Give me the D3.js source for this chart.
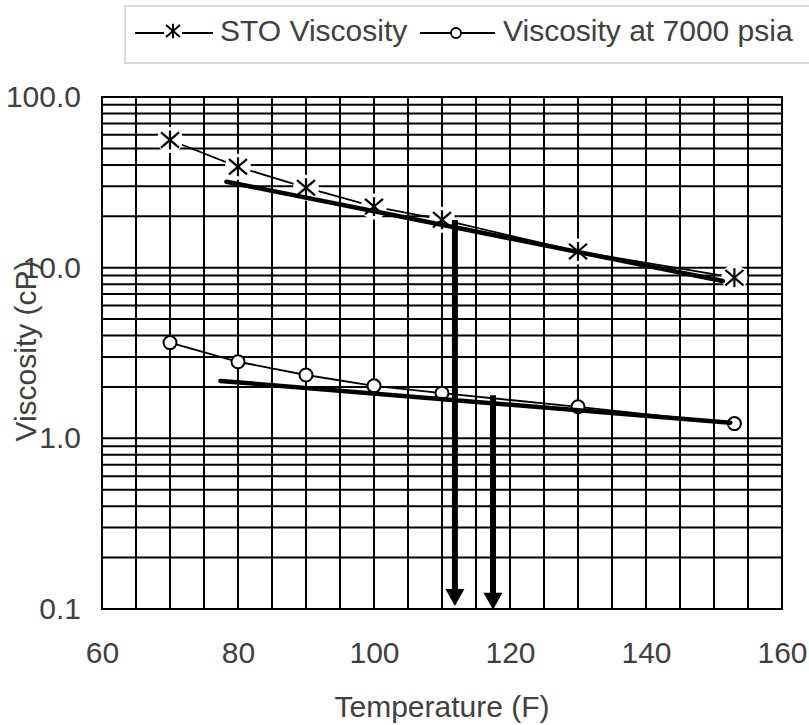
<!DOCTYPE html>
<html>
<head>
<meta charset="utf-8">
<script src="https://cdn.jsdelivr.net/npm/d3@7"></script>
<style>
  html, body { margin: 0; padding: 0; background: #fff; }
  svg { display: block; }
  text { font-family: "Liberation Sans", Arial, sans-serif; fill: #404040; }
</style>
</head>
<body>
<svg id="chart" width="809" height="725"></svg>
<script>
// ---- data ----
const temps = [70, 80, 90, 100, 110, 130, 153];
const stoVisc = [56.0, 39.0, 29.4, 22.8, 19.1, 12.45, 8.74];
const visc7000 = [3.64, 2.81, 2.35, 2.03, 1.84, 1.53, 1.22];

const stoTrendT = [78.3, 151.3];
const stoTrendV = [31.9, 8.36];
const trend7000T = [77.4, 152.4];
const trend7000V = [2.17, 1.235];

const arrowT = [111.9, 117.5];
const arrowFromV = [19.0, 1.79];
const arrowToV = [0.104, 0.099];

const xTicks = [60, 80, 100, 120, 140, 160];
const yTicks = [0.1, 1, 10, 100];
const yTickLabels = ["0.1", "1.0", "10.0", "100.0"];
const legendLabels = ["STO Viscosity", "Viscosity at 7000 psia"];
const xTitle = "Temperature (F)";
const yTitle = "Viscosity (cP)";

// ---- layout ----
const FS = 30;
const svg = d3.select("#chart");
const x = d3.scaleLinear().domain([60, 160]).range([102, 782]);
const y = d3.scaleLog().domain([0.1, 100]).range([609, 97]);

// grid
const grid = svg.append("g").attr("stroke", "#000").attr("stroke-width", 2);
const vLines = d3.range(60, 161, 5);
grid.selectAll("line.v").data(vLines).join("line")
  .attr("x1", d => x(d)).attr("x2", d => x(d))
  .attr("y1", y(100) - 1).attr("y2", y(0.1) + 1);
const hLines = [];
[0.1, 1, 10].forEach(dec => { for (let k = 1; k <= 9; k++) hLines.push(+(dec * k).toPrecision(3)); });
hLines.push(100);
grid.selectAll("line.h").data(hLines).join("line")
  .attr("x1", x(60) - 1).attr("x2", x(160) + 1)
  .attr("y1", d => y(d)).attr("y2", d => y(d));

// axes
const xAxis = d3.axisBottom(x).tickValues(xTicks).tickSize(0).tickPadding(33).tickFormat(d3.format("d"));
const gx = svg.append("g").attr("transform", `translate(0,${y(0.1)})`).call(xAxis);
gx.select(".domain").remove();
gx.selectAll("text").attr("font-size", FS).attr("font-family", "Liberation Sans, Arial, sans-serif").attr("fill", "#404040");

const yAxis = d3.axisLeft(y).tickValues(yTicks).tickSize(0).tickPadding(21)
  .tickFormat((d, i) => yTickLabels[i]);
const gy = svg.append("g").attr("transform", `translate(${x(60)},0)`).call(yAxis);
gy.select(".domain").remove();
gy.selectAll("text").attr("font-size", FS).attr("font-family", "Liberation Sans, Arial, sans-serif").attr("fill", "#404040");

// titles
svg.append("text").attr("x", (x(60) + x(160)) / 2).attr("y", 717)
  .attr("text-anchor", "middle").attr("font-size", FS).text(xTitle);
svg.append("text").attr("transform", "translate(36,351) rotate(-90)")
  .attr("text-anchor", "middle").attr("font-size", FS).text(yTitle);

// data lines
const line = d3.line().x(d => x(d[0])).y(d => y(d[1]));
const stoPts = temps.map((t, i) => [t, stoVisc[i]]);
const p7Pts = temps.map((t, i) => [t, visc7000[i]]);

svg.append("path").datum(p7Pts).attr("d", line)
  .attr("fill", "none").attr("stroke", "#000").attr("stroke-width", 1.8);
svg.append("path").datum(stoPts).attr("d", line)
  .attr("fill", "none").attr("stroke", "#000").attr("stroke-width", 1.8);

// STO markers with white halo
function asterisk(g, s) {
  g.append("line").attr("x1", -s).attr("y1", -s * 0.85).attr("x2", s).attr("y2", s * 0.85);
  g.append("line").attr("x1", -s).attr("y1", s * 0.85).attr("x2", s).attr("y2", -s * 0.85);
  g.append("line").attr("x1", 0).attr("y1", -s * 1.05).attr("x2", 0).attr("y2", s * 1.05);
}
const stoM = svg.append("g").selectAll("g").data(stoPts).join("g")
  .attr("transform", d => `translate(${x(d[0])},${y(d[1])})`);
stoM.append("circle").attr("r", 13).attr("fill", "#fff");
stoM.each(function () {
  const g = d3.select(this).append("g").attr("stroke", "#000").attr("stroke-width", 2.2);
  asterisk(g, 9);
});

// circle markers
svg.append("g").selectAll("circle").data(p7Pts).join("circle")
  .attr("cx", d => x(d[0])).attr("cy", d => y(d[1])).attr("r", 6.5)
  .attr("fill", "#fff").attr("stroke", "#000").attr("stroke-width", 2);

// thick trend lines
const tr1 = stoTrendT.map((t, i) => [t, stoTrendV[i]]);
const tr2 = trend7000T.map((t, i) => [t, trend7000V[i]]);
[tr1, tr2].forEach(tr => {
  svg.append("path").datum(tr).attr("d", line)
    .attr("fill", "none").attr("stroke", "#000").attr("stroke-width", 4.5).attr("stroke-linecap", "round");
});

// arrows
arrowT.forEach((t, i) => {
  const ax = x(t), y0 = y(arrowFromV[i]), y1 = y(arrowToV[i]);
  svg.append("line").attr("x1", ax).attr("x2", ax).attr("y1", y0).attr("y2", y1 - 14)
    .attr("stroke", "#000").attr("stroke-width", 6);
  svg.append("path")
    .attr("d", `M${ax - 9.5},${y1 - 17} L${ax + 9.5},${y1 - 17} L${ax},${y1} Z`)
    .attr("fill", "#000");
});

// legend
const lg = svg.append("g");
lg.append("rect").attr("x", 125).attr("y", 6).attr("width", 720).attr("height", 57)
  .attr("fill", "#fff").attr("stroke", "#d9d9d9").attr("stroke-width", 2);
lg.append("line").attr("x1", 135).attr("x2", 213).attr("y1", 33).attr("y2", 33)
  .attr("stroke", "#000").attr("stroke-width", 1.8);
const la = lg.append("g").attr("transform", "translate(173,31)");
la.append("rect").attr("x", -9).attr("y", -10).attr("width", 18).attr("height", 20).attr("fill", "#fff");
asterisk(la.append("g").attr("stroke", "#000").attr("stroke-width", 2), 7);
lg.append("text").attr("x", 220).attr("y", 41).attr("font-size", FS).text(legendLabels[0]);
lg.append("line").attr("x1", 420).attr("x2", 495).attr("y1", 33).attr("y2", 33)
  .attr("stroke", "#000").attr("stroke-width", 1.8);
lg.append("circle").attr("cx", 456).attr("cy", 33).attr("r", 5)
  .attr("fill", "#fff").attr("stroke", "#000").attr("stroke-width", 1.8);
lg.append("text").attr("x", 503).attr("y", 41).attr("font-size", FS).text(legendLabels[1]);
</script>
</body>
</html>
